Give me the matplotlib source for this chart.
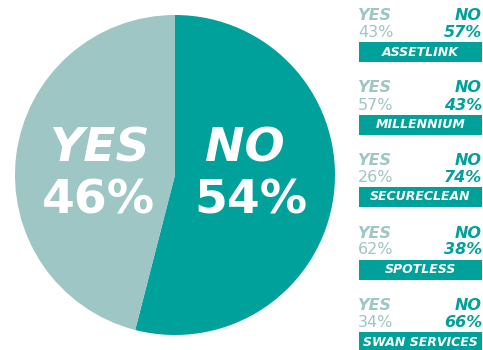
import matplotlib
matplotlib.use("Agg")
import matplotlib.pyplot as plt

# Data
overall_labels = ["NO", "YES"]
overall_values = [54, 46]
companies = ["ASSETLINK", "MILLENNIUM", "SECURECLEAN", "SPOTLESS", "SWAN SERVICES"]
yes_vals = [43, 57, 26, 62, 34]
no_vals = [57, 43, 74, 38, 66]

TEAL = "#00A19A"
LIGHT = "#9DC6C5"

W, H = 483, 350
fig = plt.figure(figsize=(W / 100, H / 100), dpi=100)
fig.patch.set_facecolor("white")

# Pie
ax = fig.add_axes([15 / W, 15 / H, 320 / W, 320 / H])
ax.pie(overall_values, colors=[TEAL, LIGHT], startangle=90, counterclock=False,
       radius=1.0, wedgeprops=dict(linewidth=0))
ax.set_xlim(-1, 1)
ax.set_ylim(-1, 1)
ax.set_aspect("equal")
ax.axis("off")

fs_big = 34
ax.text(-0.79, 0.16, overall_labels[1], color="white", fontsize=fs_big, fontweight="heavy",
        fontstyle="italic", ha="left", va="center")
ax.text(-0.83, -0.16, f"{overall_values[1]}%", color="white", fontsize=fs_big, fontweight="bold",
        ha="left", va="center")
ax.text(0.19, 0.16, overall_labels[0], color="white", fontsize=fs_big, fontweight="heavy",
        fontstyle="italic", ha="left", va="center")
ax.text(0.12, -0.16, f"{overall_values[0]}%", color="white", fontsize=fs_big, fontweight="bold",
        ha="left", va="center")

# Right panel in pixel coordinates
ax2 = fig.add_axes([0, 0, 1, 1])
ax2.set_xlim(0, W)
ax2.set_ylim(H, 0)
ax2.axis("off")
ax2.patch.set_alpha(0)

x0, x1 = 359, 482
bar_tops = [42, 114.5, 187, 259.5, 332]
bar_h = 20
centers = [t + bar_h / 2 for t in bar_tops]
ax2.barh(centers, [x1 - x0] * len(companies), left=x0, height=bar_h, color=TEAL, linewidth=0)

fs_small = 11.5
for i, name in enumerate(companies):
    t = bar_tops[i]
    ax2.text((x0 + x1) / 2, centers[i], name, color="white", fontsize=9, fontweight="heavy",
             fontstyle="italic", ha="center", va="center")
    ax2.text(x0 - 1, t - 22, "YES", color=LIGHT, fontsize=fs_small, fontweight="bold",
             fontstyle="italic", ha="left", va="baseline")
    ax2.text(x0 - 1, t - 5, f"{yes_vals[i]}%", color=LIGHT, fontsize=fs_small,
             ha="left", va="baseline")
    ax2.text(x1, t - 22, "NO", color=TEAL, fontsize=fs_small, fontweight="bold",
             fontstyle="italic", ha="right", va="baseline")
    ax2.text(x1, t - 5, f"{no_vals[i]}%", color=TEAL, fontsize=fs_small, fontweight="bold",
             fontstyle="italic", ha="right", va="baseline")

fig.savefig("out.png", dpi=100, facecolor="white")
